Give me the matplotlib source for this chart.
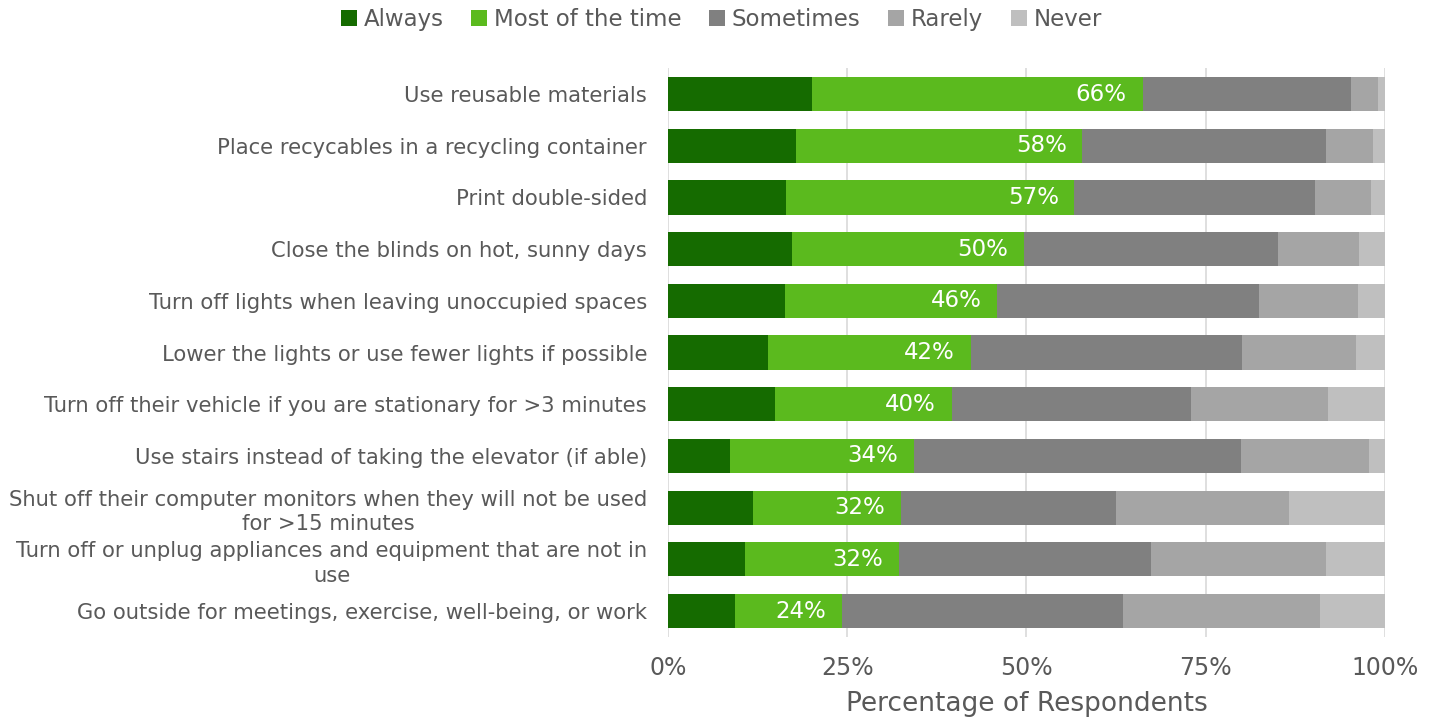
import matplotlib.pyplot as plt
import numpy as np

plt.rcParams['font.family'] = ['DejaVu Sans']

categories = [
    "Use reusable materials",
    "Place recycables in a recycling container",
    "Print double-sided",
    "Close the blinds on hot, sunny days",
    "Turn off lights when leaving unoccupied spaces",
    "Lower the lights or use fewer lights if possible",
    "Turn off their vehicle if you are stationary for >3 minutes",
    "Use stairs instead of taking the elevator (if able)",
    "Shut off their computer monitors when they will not be used\nfor >15 minutes",
    "Turn off or unplug appliances and equipment that are not in\nuse",
    "Go outside for meetings, exercise, well-being, or work",
]

series = ["Always", "Most of the time", "Sometimes", "Rarely", "Never"]
always = [20.1, 17.8, 16.4, 17.3, 16.3, 14.0, 14.9, 8.7, 11.8, 10.7, 9.4]
most = [46.1, 40.0, 40.3, 32.3, 29.6, 28.2, 24.7, 25.6, 20.7, 21.5, 14.9]
sometimes = [29.1, 34.0, 33.5, 35.5, 36.5, 37.8, 33.4, 45.6, 30.0, 35.2, 39.1]
rarely = [3.7, 6.6, 7.9, 11.3, 13.9, 15.9, 19.1, 17.9, 24.1, 24.4, 27.5]
never = [1.0, 1.6, 1.9, 3.6, 3.7, 4.1, 7.9, 2.2, 13.4, 8.2, 9.1]
top_two = [66, 58, 57, 50, 46, 42, 40, 34, 32, 32, 24]

colors = ["#156b00", "#5bba1e", "#808080", "#a5a5a5", "#bfbfbf"]
text_color = "#595959"

fig = plt.figure(figsize=(14.34, 7.21), dpi=100)
ax = fig.add_axes([0.4658, 0.1167, 0.5, 0.7887])

y = np.arange(len(categories))
left = np.zeros(len(categories))
for name, vals, c in zip(series, [always, most, sometimes, rarely, never], colors):
    ax.barh(y, vals, left=left, height=0.66, color=c, label=name, zorder=2)
    left += np.array(vals)

# label the combined "Always" + "Most of the time" share
cum = np.array(always) + np.array(most)
for yi, x, v in zip(y, cum, top_two):
    ax.text(x - 2.2, yi, f"{v}%", ha="right", va="center", color="white",
            fontsize=16.5, zorder=3)

ax.set_yticks(y)
ax.set_yticklabels(categories, fontsize=15.2, color=text_color,
                   multialignment="center", linespacing=1.3)
ax.set_ylim(len(categories) - 0.5, -0.5)
ax.set_xlim(0, 100)
ax.set_xticks([0, 25, 50, 75, 100])
ax.set_xticklabels(["0%", "25%", "50%", "75%", "100%"], fontsize=17, color=text_color)
ax.tick_params(axis="y", length=0, pad=15)
ax.tick_params(axis="x", length=0, pad=14)
ax.xaxis.grid(True, color="#d9d9d9", linewidth=1.2, zorder=0)
for s in ax.spines.values():
    s.set_visible(False)
ax.set_xlabel("Percentage of Respondents", fontsize=19, color=text_color, labelpad=8)

fig.legend(loc="upper center", bbox_to_anchor=(0.503, 1.017),
           ncol=5, frameon=False, fontsize=16.5, handlelength=0.7, handleheight=0.7,
           handletextpad=0.3, columnspacing=1.2, labelcolor=text_color)

fig.savefig("out.png")
